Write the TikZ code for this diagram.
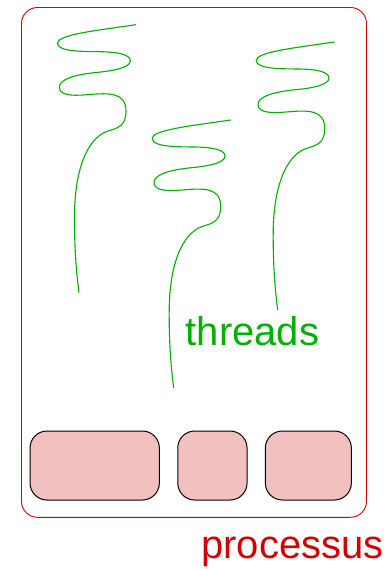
\documentclass[tikz,border=0pt]{standalone}
\usepackage{fontspec}
\setmainfont{Liberation Sans}
\usetikzlibrary{positioning}
\definecolor{procred}{RGB}{210, 0, 0}
\definecolor{threadgreen}{RGB}{0, 175, 0}
\definecolor{mempink}{RGB}{243, 192, 192}
\tikzset{
    membox/.style={draw=black, line width=1pt, fill=mempink, rounded corners=17pt,
                   minimum height=69pt, inner sep=0pt},
    bigtext/.style={inner sep=0pt, anchor=base west, font=\fontsize{40}{48}\selectfont},
    thread/.style={threadgreen, line width=1.1pt}
}

\begin{document}
\begin{tikzpicture}[x=1pt, y=-1pt]
    \useasboundingbox (0,0) rectangle (383,569);
    % Process frame
    \draw[procred, line width=0.9pt, rounded corners=16pt] (21.5,7.5) rectangle (366.5,517.3);
    % Threads (same curve, shifted)
    \foreach \dx/\dy in {0/0, 94.7/95.3, 198.7/17.3} {
        \draw[thread, shift={(\dx,\dy)}]
            (136,24.7) .. controls (92,31) and (57,35) .. (57.5,43.5)
            .. controls (58,52) and (85,51.5) .. (100,51.7)
            .. controls (120,52) and (130.5,55) .. (130.3,61)
            .. controls (130,68) and (112,71) .. (96,72.5)
            .. controls (76,74.5) and (59,79) .. (59.3,87.5)
            .. controls (59.6,97) and (78,95.5) .. (90,94.5)
            .. controls (108,93) and (126,92) .. (126,111)
            .. controls (126,126) and (118,128) .. (108,131)
            .. controls (92,136) and (75,160) .. (74.5,215)
            .. controls (74.3,245) and (76,270) .. (79,292.7);
    }
    % Labels
    \node[bigtext, threadgreen] (threads) at (185.5,345) {threads};
    \node[bigtext, procred] (processus) at (201,558) {processus};
    % Memory blocks
    \node[membox, minimum width=129.3pt] (mem1) at (94.7,465.5) {};
    \node[membox, minimum width=69.3pt, right=17.4pt of mem1] (mem2) {};
    \node[membox, minimum width=86pt, right=17.3pt of mem2] (mem3) {};
\end{tikzpicture}
\end{document}
